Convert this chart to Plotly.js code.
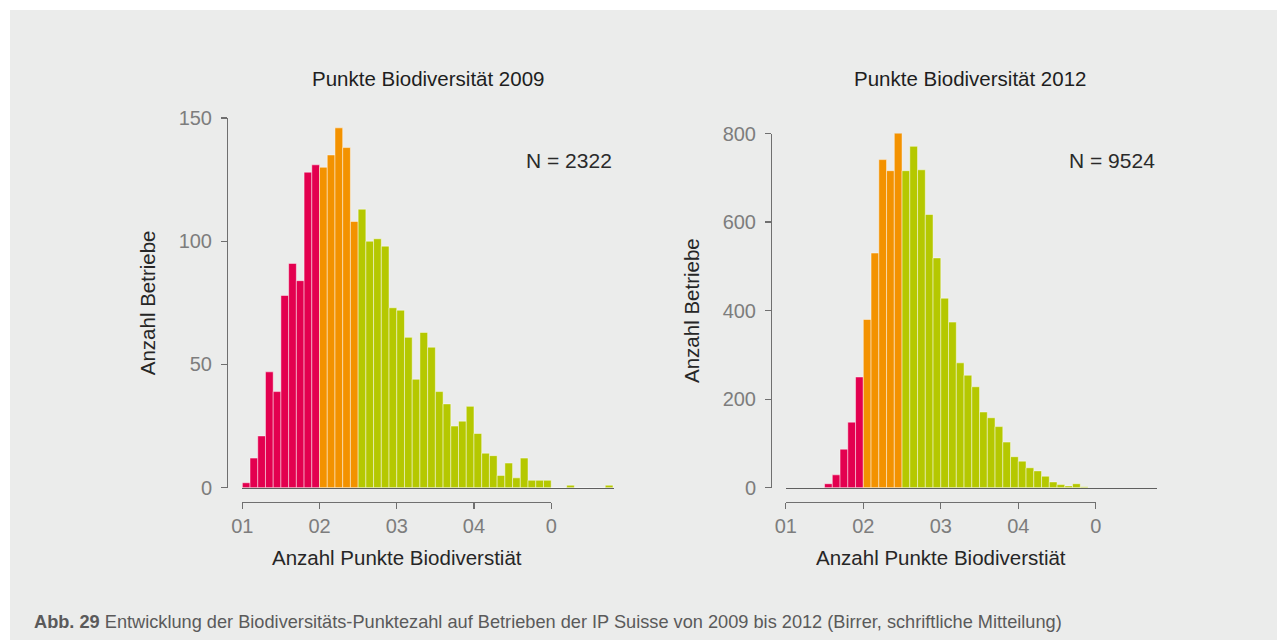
<!DOCTYPE html>
<html>
<head>
<meta charset="utf-8">
<script src="https://cdn.plot.ly/plotly-3.0.1.min.js"></script>
<style>
html,body{margin:0;padding:0;background:#ffffff;}
#chart{width:1277px;height:640px;}
</style>
</head>
<body>
<div id="chart"></div>
<script>
// ---------- data ----------
const bins2009 = [10,11,12,13,14,15,16,17,18,19,20,21,22,23,24,25,26,27,28,29,30,31,32,33,34,35,36,37,38,39,40,41,42,43,44,45,46,47,48,49,50,51,52,53,54,55,56,57];
const counts2009 = [2,12,21,47,39,78,91,84,128,131,130,135,146,138,108,113,100,101,98,73,72,61,44,63,57,39,34,25,27,33,22,14,13,5,10,4,12,3,3,3,0,0,1,0,0,0,0,1];
const bins2012 = [15,16,17,18,19,20,21,22,23,24,25,26,27,28,29,30,31,32,33,34,35,36,37,38,39,40,41,42,43,44,45,46,47,48];
const counts2012 = [9,29,87,148,250,380,530,741,716,809,716,771,718,617,519,428,374,282,254,228,171,158,138,103,70,60,45,38,26,13,7,4,9,2];
const xTickVals = [10,20,30,40,50];
const xTickText = ["01","02","03","04","0"];
const yTicks2009 = [0,50,100,150];
const yTicks2012 = [0,200,400,600,800];
const title2009 = "Punkte Biodiversität 2009";
const title2012 = "Punkte Biodiversität 2012";
const n2009 = "N = 2322";
const n2012 = "N = 9524";
const yTitle = "Anzahl Betriebe";
const xTitle = "Anzahl Punkte Biodiverstiät";
const caption = "<b>Abb. 29</b> Entwicklung der Biodiversitäts-Punktezahl auf Betrieben der IP Suisse von 2009 bis 2012 (Birrer, schriftliche Mitteilung)";
const classLimits = [20, 25]; // red below 20, orange 20-24, green from 25
const classColors = ["#e3004f", "#f39200", "#b5c800"];

// ---------- layout helpers ----------
const W = 1277, H = 640;
const px = x => x / W;
const py = y => 1 - y / H;
const FONT = "Liberation Sans, Arial, Helvetica, sans-serif";
const AXC = "#6f6f6f";
const TICKC = "#7d7d7d";

function colorFor(b){
  if (b < classLimits[0]) return classColors[0];
  if (b < classLimits[1]) return classColors[1];
  return classColors[2];
}

const G = {
  left:  {x10: 242.3, ppu: 7.7225, yAxisX: 227, rightEnd: 614, yTop: 118, yMax: 150},
  right: {x10: 785.8, ppu: 7.75,   yAxisX: 771, rightEnd: 1157, yTop: 133.5, yMax: 800}
};
const yZero = 487.7, bracketY = 502;

function barTrace(bins, counts, xa, ya){
  return {
    type: "bar", x: bins, y: counts, xaxis: xa, yaxis: ya,
    width: 1, offset: 0,
    marker: {color: bins.map(colorFor), line: {color: "rgba(255,255,255,0.45)", width: 1}},
    cliponaxis: false, hoverinfo: "x+y", showlegend: false
  };
}
function ghostTrace(bins, counts, xa, ya){
  return {type: "scatter", mode: "markers", x: bins, y: counts, xaxis: xa, yaxis: ya,
    marker: {size: 1, opacity: 0}, hoverinfo: "skip", showlegend: false};
}

const data = [
  barTrace(bins2009, counts2009, "x", "y"),
  ghostTrace(bins2009, counts2009, "x3", "y"),
  barTrace(bins2012, counts2012, "x2", "y2"),
  ghostTrace(bins2012, counts2012, "x4", "y2")
];

function baseX(g, yId){
  return {
    domain: [px(g.x10), px(g.rightEnd)],
    range: [10, 10 + (g.rightEnd - g.x10) / g.ppu],
    anchor: yId, showline: true, linecolor: "#5f5f5f", linewidth: 1.5,
    ticks: "", showticklabels: false, showgrid: false, zeroline: false, fixedrange: true
  };
}
function bracketX(g){
  return {
    domain: [px(g.x10), px(g.x10 + 40 * g.ppu)],
    range: [10, 50], anchor: "free", position: py(bracketY),
    showline: true, linecolor: AXC, linewidth: 1.3,
    ticks: "outside", ticklen: 6, tickwidth: 1.3, tickcolor: AXC,
    tickmode: "array", tickvals: xTickVals, ticktext: xTickText,
    tickfont: {family: FONT, size: 20, color: TICKC}, ticklabelstandoff: 0,
    showgrid: false, zeroline: false, fixedrange: true,
    title: {text: xTitle, font: {family: FONT, size: 20.5, color: "#262626"}, standoff: 14}
  };
}
function yAx(g, ticks){
  return {
    domain: [py(yZero), py(g.yTop)], range: [0, g.yMax],
    anchor: "free", position: px(g.yAxisX), side: "left",
    showline: true, linecolor: AXC, linewidth: 1.3,
    ticks: "outside", ticklen: 6, tickwidth: 1.3, tickcolor: AXC,
    tickmode: "array", tickvals: ticks,
    tickfont: {family: FONT, size: 20, color: TICKC}, ticklabelstandoff: 5,
    showgrid: false, zeroline: false, fixedrange: true,
    title: {text: yTitle, font: {family: FONT, size: 20.5, color: "#262626"}, standoff: 16}
  };
}

const layout = {
  width: W, height: H,
  margin: {l: 0, r: 0, t: 0, b: 0},
  paper_bgcolor: "#ebeceb", plot_bgcolor: "rgba(0,0,0,0)",
  bargap: 0, showlegend: false,
  font: {family: FONT},
  xaxis: baseX(G.left, "y"),
  xaxis2: baseX(G.right, "y2"),
  xaxis3: bracketX(G.left),
  xaxis4: bracketX(G.right),
  yaxis: yAx(G.left, yTicks2009),
  yaxis2: yAx(G.right, yTicks2012),
  shapes: [
    {type: "rect", xref: "paper", yref: "paper", x0: 0, x1: px(10), y0: 0, y1: 1, fillcolor: "#ffffff", line: {width: 0}},
    {type: "rect", xref: "paper", yref: "paper", x0: 0, x1: 1, y0: py(10), y1: 1, fillcolor: "#ffffff", line: {width: 0}}
  ],
  annotations: [
    {text: title2009, xref: "paper", yref: "paper", x: px(428), y: py(79), xanchor: "center", yanchor: "middle", showarrow: false, font: {family: FONT, size: 20.5, color: "#1e1e1e"}},
    {text: title2012, xref: "paper", yref: "paper", x: px(970), y: py(79), xanchor: "center", yanchor: "middle", showarrow: false, font: {family: FONT, size: 20.5, color: "#1e1e1e"}},
    {text: n2009, xref: "paper", yref: "paper", x: px(614), y: py(160), xanchor: "right", yanchor: "middle", showarrow: false, font: {family: FONT, size: 21, color: "#2a2a2a"}},
    {text: n2012, xref: "paper", yref: "paper", x: px(1157), y: py(160), xanchor: "right", yanchor: "middle", showarrow: false, font: {family: FONT, size: 21, color: "#2a2a2a"}},
    {text: caption, xref: "paper", yref: "paper", x: px(32), y: py(622), xanchor: "left", yanchor: "middle", showarrow: false, font: {family: FONT, size: 18.2, color: "#5a5a5a"}}
  ]
};

Plotly.newPlot("chart", data, layout, {displayModeBar: false, staticPlot: true});
</script>
</body>
</html>
